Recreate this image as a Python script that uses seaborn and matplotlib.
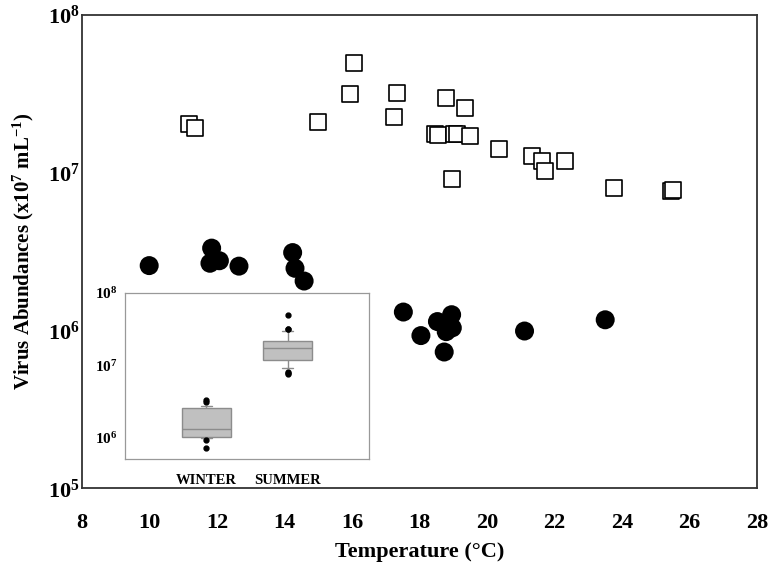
# virus abundance vs temperature, winter/summer, with boxplot inset
import matplotlib
matplotlib.use('Agg')
import matplotlib.pyplot as plt
from matplotlib.ticker import NullLocator
import seaborn as sns
import pandas as pd

# winter samples (filled circles)
winter_temp = [9.99, 11.84, 11.79, 12.07, 12.65, 14.24, 14.31, 14.58, 17.52,
               18.04, 18.53, 18.95, 18.97, 18.79, 18.73, 21.11, 23.50]
winter_abund = [2.58e6, 3.33e6, 2.67e6, 2.77e6, 2.56e6, 3.12e6, 2.48e6, 2.06e6, 1.31e6,
                9.29e5, 1.14e6, 1.26e6, 1.04e6, 9.84e5, 7.31e5, 9.93e5, 1.17e6]

# summer samples (open squares)
summer_temp = [11.18, 11.34, 16.06, 15.93, 15.00, 17.32, 17.25, 18.79, 19.36, 18.46,
               18.54, 19.02, 19.10, 19.50, 20.35, 18.97, 21.33, 21.63, 21.73, 22.32,
               23.77, 25.45, 25.52]
summer_abund = [2.03e7, 1.93e7, 4.94e7, 3.14e7, 2.11e7, 3.22e7, 2.27e7, 2.99e7, 2.58e7, 1.75e7,
                1.74e7, 1.75e7, 1.75e7, 1.71e7, 1.41e7, 9.10e6, 1.28e7, 1.19e7, 1.03e7, 1.19e7,
                8.05e6, 7.67e6, 7.78e6]

seasons = ['WINTER', 'SUMMER']
x_ticks = list(range(8, 29, 2))
y_ticks = [1e5, 1e6, 1e7, 1e8]
inset_ticks = [1e6, 1e7, 1e8]

sns.set_style('white')
plt.rcParams['font.family'] = ['Liberation Serif', 'DejaVu Serif']
plt.rcParams['font.weight'] = 'bold'
plt.rcParams['text.color'] = 'black'
plt.rcParams['axes.labelcolor'] = 'black'
plt.rcParams['xtick.labelcolor'] = 'black'
plt.rcParams['ytick.labelcolor'] = 'black'
plt.rcParams['mathtext.fontset'] = 'custom'
plt.rcParams['mathtext.rm'] = 'Liberation Serif:bold'
plt.rcParams['mathtext.bf'] = 'Liberation Serif:bold'
plt.rcParams['mathtext.it'] = 'Liberation Serif:bold:italic'

fig = plt.figure(figsize=(7.68, 5.67), dpi=100)
ax = fig.add_axes([0.1068, 0.1388, 0.879, 0.8347])

sns.scatterplot(x=winter_temp, y=winter_abund, marker='o', s=187, color='black',
                edgecolor='none', linewidth=0, ax=ax, zorder=3)
sns.scatterplot(x=summer_temp, y=summer_abund, marker='s', s=118, color='white',
                edgecolor='black', linewidth=1.2, ax=ax, zorder=3)

ax.set_yscale('log')
ax.set_xlim(8, 28)
ax.set_ylim(1e5, 1e8)
ax.set_xticks(x_ticks)
ax.set_xticklabels([str(t) for t in x_ticks], fontsize=16, fontweight='bold')
ax.set_yticks(y_ticks)
ax.set_yticklabels(['$10^{%d}$' % i for i in range(5, 9)], fontsize=16)
ax.yaxis.set_minor_locator(NullLocator())
for sp in ax.spines.values():
    sp.set_color('#333333')
    sp.set_linewidth(1.3)
ax.tick_params(axis='x', direction='out', length=4.5, width=1.2, color='#333333', pad=13)
ax.tick_params(axis='y', direction='out', length=4.5, width=1.2, color='#333333', pad=-3)
ax.set_xlabel('Temperature (\u00b0C)', fontsize=16, fontweight='bold', labelpad=7)
ax.set_ylabel('Virus Abundances (x10$^{7}$ mL$^{-1}$)', fontsize=15, fontweight='bold', labelpad=9)

# inset boxplot, 10th/90th percentile whiskers
box_df = pd.DataFrame({
    'season': ['WINTER'] * len(winter_abund) + ['SUMMER'] * len(summer_abund),
    'abundance': winter_abund + summer_abund,
})
ax_in = fig.add_axes([125 / 768, (567 - 459) / 567, 244 / 768, 166 / 567])
sns.boxplot(data=box_df, x='season', y='abundance', order=seasons, whis=(10, 90),
            log_scale=True, width=0.6, color='#c0c0c0', saturation=1,
            linecolor='#8c8c8c', linewidth=1.0, fliersize=3.5,
            flierprops=dict(marker='o', markerfacecolor='black', markeredgecolor='black'),
            ax=ax_in)
# narrower whisker caps
for ln in ax_in.lines:
    xd, yd = list(ln.get_xdata()), list(ln.get_ydata())
    if len(xd) == 2 and yd[0] == yd[1] and 0 < abs(xd[1] - xd[0]) < 0.5:
        c = (xd[0] + xd[1]) / 2
        ln.set_xdata([c - 0.07, c + 0.07])
ax_in.set_xlim(-1, 2)
ax_in.set_ylim(10 ** 5.71, 1e8)
ax_in.set_yticks(inset_ticks)
ax_in.set_yticklabels(['$10^{%d}$' % i for i in range(6, 9)], fontsize=11)
ax_in.yaxis.set_minor_locator(NullLocator())
ax_in.set_xticks([0, 1])
ax_in.set_xticklabels(seasons, fontsize=10.5, fontweight='bold')
ax_in.set_xlabel('')
ax_in.set_ylabel('')
for sp in ax_in.spines.values():
    sp.set_visible(True)
    sp.set_color('#999999')
    sp.set_linewidth(0.9)
ax_in.tick_params(direction='out', length=2.5, width=0.8, color='#999999', pad=3)
ax_in.tick_params(axis='x', pad=8)

fig.savefig('out.png', dpi=100)
